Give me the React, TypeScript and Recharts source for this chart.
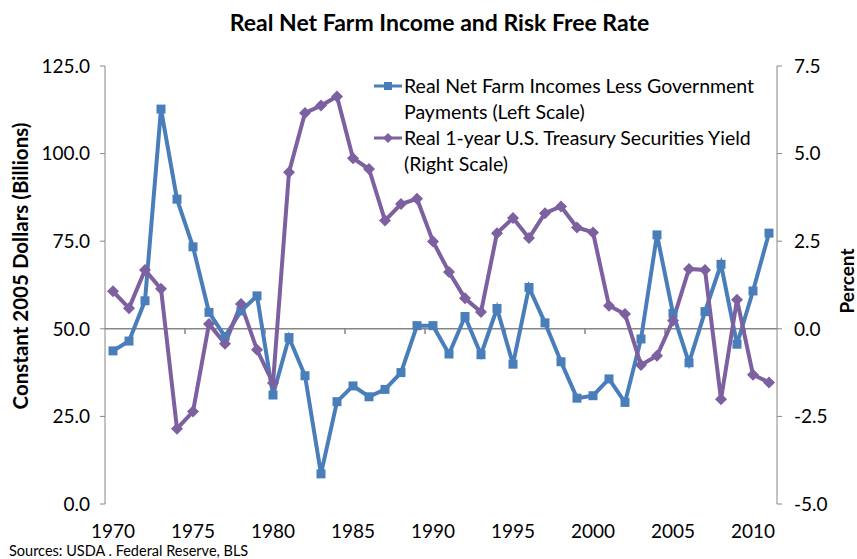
import React from "react";
import { Line, LineChart, ReferenceLine, XAxis, YAxis } from "recharts";

const years = [
  1970, 1971, 1972, 1973, 1974, 1975, 1976, 1977, 1978, 1979, 1980, 1981, 1982, 1983,
  1984, 1985, 1986, 1987, 1988, 1989, 1990, 1991, 1992, 1993, 1994, 1995, 1996, 1997,
  1998, 1999, 2000, 2001, 2002, 2003, 2004, 2005, 2006, 2007, 2008, 2009, 2010, 2011,
];

// Real net farm income less government payments, billions of 2005 dollars
const farmIncome = [
  43.7, 46.5, 58.0, 112.7, 87.0, 73.4, 54.7, 47.8, 55.1, 59.4, 31.1, 47.5, 36.6, 8.6,
  29.2, 33.7, 30.6, 32.7, 37.5, 50.9, 50.9, 42.8, 53.5, 42.6, 55.8, 39.9, 61.8, 51.7,
  40.6, 30.2, 30.9, 35.7, 29.0, 47.1, 76.8, 54.4, 40.3, 54.9, 68.4, 45.6, 60.8, 77.3,
];

// Real 1-year treasury yield, percent
const treasuryYield = [
  1.07, 0.59, 1.68, 1.14, -2.85, -2.36, 0.14, -0.43, 0.71, -0.6, -1.55, 4.47, 6.16, 6.37,
  6.63, 4.87, 4.56, 3.09, 3.56, 3.71, 2.49, 1.62, 0.87, 0.48, 2.73, 3.16, 2.59, 3.3,
  3.49, 2.89, 2.75, 0.66, 0.42, -1.03, -0.77, 0.24, 1.71, 1.68, -2.01, 0.83, -1.31, -1.53,
];

const yearTicks = [1970, 1975, 1980, 1985, 1990, 1995, 2000, 2005, 2010];
const leftTicks = [0, 25, 50, 75, 100, 125];
const rightTicks = [-5, -2.5, 0, 2.5, 5, 7.5];
// category boundaries that carry a tick mark on the zero line
const boundaryTicks = [1974.5, 1979.5, 1984.5, 1989.5, 1994.5, 1999.5, 2004.5, 2009.5];

const BLUE = "#4a7ebb";
const PURPLE = "#7d60a0";
const AXIS = "#868686";
const FONT = "Lato, 'Open Sans', sans-serif";

const data = years.map((year, i) => ({
  year,
  income: farmIncome[i],
  yield: treasuryYield[i],
}));

function SquareDot(props: any) {
  const { cx, cy } = props;
  if (cx == null || cy == null) return null;
  return <rect x={cx - 4.5} y={cy - 4.5} width={9} height={9} fill={BLUE} />;
}

function DiamondDot(props: any) {
  const { cx, cy } = props;
  if (cx == null || cy == null) return null;
  const r = 6;
  return (
    <polygon
      points={`${cx},${cy - r} ${cx + r},${cy} ${cx},${cy + r} ${cx - r},${cy}`}
      fill={PURPLE}
    />
  );
}

function ChartLegend() {
  const row = (color: string, marker: "square" | "diamond", lines: string[]) => (
    <div style={{ display: "flex", alignItems: "flex-start" }}>
      <svg width={31} height={26} style={{ flex: "none" }}>
        <line x1={1} y1={13} x2={29} y2={13} stroke={color} strokeWidth={3} />
        {marker === "square" ? (
          <rect x={11} y={9} width={8} height={8} fill={color} />
        ) : (
          <polygon points="15,8 20,13 15,18 10,13" fill={color} />
        )}
      </svg>
      <div style={{ lineHeight: "26px" }}>
        {lines.map((l) => (
          <div key={l}>{l}</div>
        ))}
      </div>
    </div>
  );
  return (
    <div
      style={{
        position: "absolute",
        left: 373,
        top: 73,
        fontFamily: FONT,
        fontSize: 19.5,
        color: "#000",
        whiteSpace: "nowrap",
      }}
    >
      {row(BLUE, "square", ["Real Net Farm Incomes Less Government", "Payments (Left Scale)"])}
      {row(PURPLE, "diamond", ["Real 1-year U.S. Treasury Securities Yield", "(Right Scale)"])}
    </div>
  );
}

export default function App() {
  return (
    <div
      style={{
        position: "absolute",
        left: 0,
        top: 0,
        width: 857,
        height: 559,
        background: "#fff",
        fontFamily: FONT,
        overflow: "hidden",
      }}
    >
      <LineChart
        width={857}
        height={559}
        data={data}
        margin={{ top: 66, right: 0, bottom: 25, left: 0 }}
        style={{ position: "absolute", left: 0, top: 0 }}
      >
        <XAxis
          dataKey="year"
          type="number"
          domain={[1969.5, 2011.5]}
          ticks={yearTicks}
          axisLine={false}
          tickLine={false}
          tickMargin={15}
          height={30}
          tick={{ fontSize: 19, fill: "#000", fontFamily: FONT }}
        />
        <YAxis
          yAxisId="left"
          orientation="left"
          domain={[0, 125]}
          ticks={leftTicks}
          width={105}
          stroke={AXIS}
          tickSize={5}
          tickMargin={10}
          tickFormatter={(v: number) => v.toFixed(1)}
          tick={{ fontSize: 19, fill: "#000", fontFamily: FONT }}
        />
        <YAxis
          yAxisId="right"
          orientation="right"
          domain={[-5, 7.5]}
          ticks={rightTicks}
          width={80}
          stroke={AXIS}
          tickSize={5}
          tickMargin={12}
          tickFormatter={(v: number) => v.toFixed(1)}
          tick={{ fontSize: 19, fill: "#000", fontFamily: FONT }}
        />
        <ReferenceLine yAxisId="left" y={50} stroke={AXIS} strokeWidth={1.5} />
        {boundaryTicks.map((x) => (
          <ReferenceLine
            key={x}
            yAxisId="left"
            segment={[
              { x, y: 50 },
              { x, y: 48.5 },
            ]}
            stroke={AXIS}
            strokeWidth={1.5}
          />
        ))}
        <Line
          yAxisId="left"
          dataKey="income"
          stroke={BLUE}
          strokeWidth={4}
          dot={<SquareDot />}
          activeDot={false}
          isAnimationActive={false}
          name="Real Net Farm Incomes Less Government Payments (Left Scale)"
        />
        <Line
          yAxisId="right"
          dataKey="yield"
          stroke={PURPLE}
          strokeWidth={4}
          dot={<DiamondDot />}
          activeDot={false}
          isAnimationActive={false}
          name="Real 1-year U.S. Treasury Securities Yield (Right Scale)"
        />
      </LineChart>
      <div
        style={{
          position: "absolute",
          top: 8,
          left: 0,
          width: 879,
          textAlign: "center",
          fontWeight: 700,
          fontSize: 23,
          color: "#000",
        }}
      >
        Real Net Farm Income and Risk Free Rate
      </div>
      <ChartLegend />
      <div
        style={{
          position: "absolute",
          left: 20,
          top: 266,
          transform: "translate(-50%, -50%) rotate(-90deg)",
          whiteSpace: "nowrap",
          fontWeight: 700,
          fontSize: 20.5,
          color: "#000",
        }}
      >
        Constant 2005 Dollars (Billions)
      </div>
      <div
        style={{
          position: "absolute",
          left: 846,
          top: 281,
          transform: "translate(-50%, -50%) rotate(-90deg)",
          whiteSpace: "nowrap",
          fontWeight: 700,
          fontSize: 19,
          color: "#000",
        }}
      >
        Percent
      </div>
      <div
        style={{
          position: "absolute",
          left: 9,
          top: 543,
          fontSize: 14.5,
          lineHeight: "16px",
          color: "#000",
          whiteSpace: "nowrap",
        }}
      >
        Sources: USDA . Federal Reserve, BLS
      </div>
    </div>
  );
}
